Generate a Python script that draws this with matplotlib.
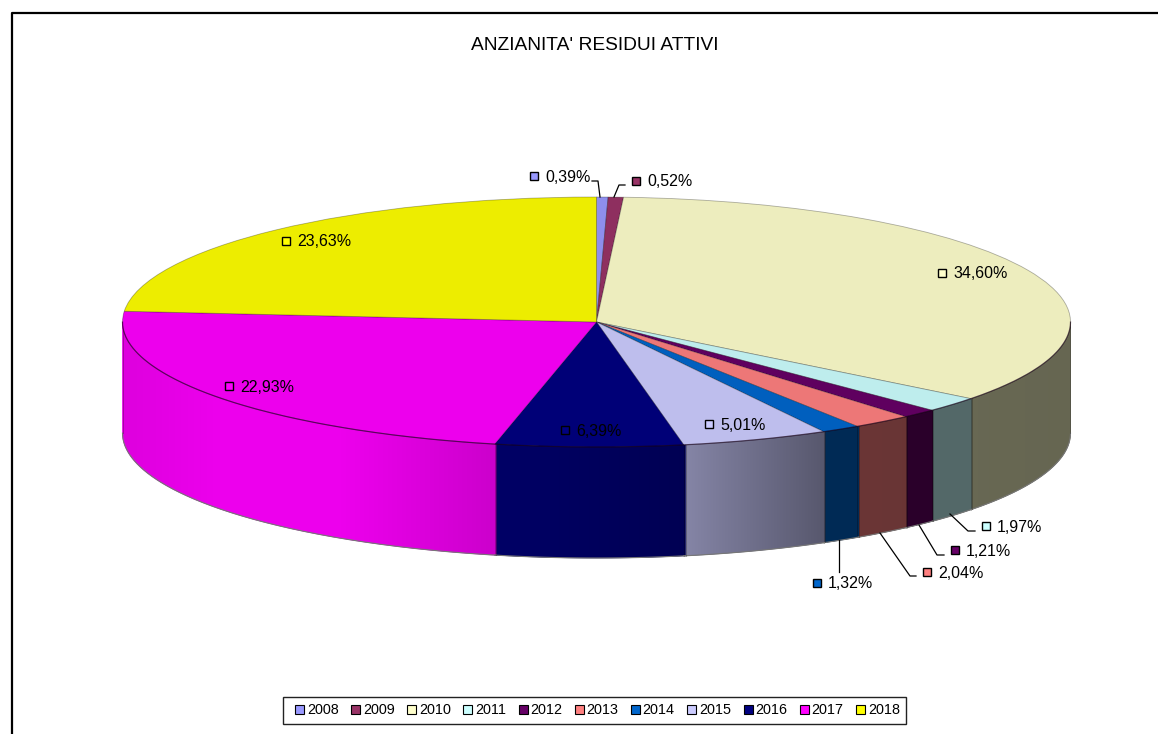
import numpy as np
import matplotlib
matplotlib.use("Agg")
import matplotlib.pyplot as plt
from matplotlib.patches import Patch, Rectangle
from matplotlib.transforms import Affine2D

plt.rcParams['font.family'] = ['Liberation Sans', 'DejaVu Sans']

title = "ANZIANITA' RESIDUI ATTIVI"
years = ['2008', '2009', '2010', '2011', '2012', '2013', '2014', '2015', '2016', '2017', '2018']
values = [0.39, 0.52, 34.60, 1.97, 1.21, 2.04, 1.32, 5.01, 6.39, 22.93, 23.63]
colors = ['#9999FF', '#993366', '#FFFFCC', '#CCFFFF', '#660066', '#FF8080',
          '#0066CC', '#CCCCFF', '#000080', '#FF00FF', '#FFFF00']

# pie geometry in pixels
cx, cy = 596.5, 322
rx, ry = 474, 125
depth = 111
top_shade = 0.93

# label positions (marker centre), same order as values
label_x = [534, 636, 942, 986, 955, 927, 817, 709, 565, 229, 286]
label_y = [176, 181, 273, 526, 550, 572, 583, 424, 430, 386, 241]

# leader lines
leaders = [
    [(600, 197), (598, 181), (592, 181)],
    [(614, 197), (619, 185), (625, 185)],
    [(950, 514), (968, 531), (975, 531)],
    [(919, 525), (937, 555), (944, 555)],
    [(880, 533), (910, 576), (916, 576)],
    [(839, 540), (839, 572)],
]

# wall lighting along x
shade_x = [122, 220, 340, 495, 686, 830, 1072]
shade_v = [0.87, 0.93, 0.93, 0.80, 0.65, 0.42, 0.40]


def darker(color, k):
    return tuple(c * k for c in matplotlib.colors.to_rgb(color))


fig = plt.figure(figsize=(11.58, 7.34), dpi=100)
ax = fig.add_axes([0, 0, 1, 1])

top_colors = [darker(c, top_shade) for c in colors]
wedges, _ = ax.pie(values, colors=top_colors, startangle=90, counterclock=False,
                   wedgeprops=dict(linewidth=0.6, edgecolor=(0, 0, 0, 0.3)))
squash = Affine2D().scale(rx, -ry).translate(cx, cy) + ax.transData
for w in wedges:
    w.set_transform(squash)
    w.set_zorder(3)

# side wall: a gradient image clipped to each slice's outline
for w, col in zip(wedges, colors):
    t = np.radians(np.arange(w.theta1, w.theta2 + 0.25, 0.25))
    t = t[np.sin(t) <= 0]
    if len(t) < 2:
        continue
    x = cx + rx * np.cos(t)
    y = cy - ry * np.sin(t)
    x0, x1 = x.min(), x.max()
    gx = np.linspace(x0, x1, max(2, int(x1 - x0)))
    shades = np.interp(gx, shade_x, shade_v)
    rgb = np.array([darker(col, k) for k in shades])[np.newaxis, :, :]
    outline = ax.fill(np.r_[x, x[::-1]], np.r_[y, y[::-1] + depth], color=darker(col, shades.mean()),
                      lw=0.5, zorder=1)[0]
    im = ax.imshow(rgb, extent=[x0, x1, 700, 300], aspect='auto', zorder=1.5, interpolation='bilinear')
    im.set_clip_path(outline)
    ax.plot(x, y + depth, color='#777777', lw=0.8, zorder=2)
    for k in (0, -1):
        ax.plot([x[k], x[k]], [y[k], y[k] + depth], color=(0, 0, 0, 0.25), lw=0.7, zorder=2)

ax.set_aspect('auto')
ax.set_xlim(0, 1158)
ax.set_ylim(734, 0)
ax.axis('off')

# seam between top and wall
t = np.radians(np.linspace(180, 360, 400))
ax.plot(cx + rx * np.cos(t), cy - ry * np.sin(t), color=(0.1, 0, 0.1, 0.55), lw=0.9, zorder=4)

for pts in leaders:
    xs, ys = zip(*pts)
    ax.plot(xs, ys, color='black', lw=0.9, zorder=5)

for v, col, lx, ly in zip(values, colors, label_x, label_y):
    ax.plot([lx], [ly], marker='s', ms=6.2, mfc=col, mec='black', mew=1.0, zorder=6)
    ax.text(lx + 11, ly + 1, f"{v:.2f}%".replace('.', ','), fontsize=11.5, color='black',
            va='center', ha='left', zorder=6)

ax.text(595, 46, title, fontsize=13.8, color='black', ha='center', va='center')

# chart frame
ax.plot([11.5, 11.5, 1158], [734, 12.5, 12.5], color='black', lw=1.6, clip_on=False)

# legend box
ax.add_patch(Rectangle((283, 697), 623, 27, facecolor='white', edgecolor='#222222', lw=1.0, zorder=6))
handles = [Patch(facecolor=c, edgecolor='black', linewidth=0.8, label=y) for y, c in zip(years, colors)]
leg = ax.legend(handles=handles, ncol=11, loc='center', bbox_to_anchor=(597.5 / 1158, 1 - 710.5 / 734),
                fontsize=10.4, frameon=False, handlelength=0.62, handleheight=0.62,
                handletextpad=0.18, columnspacing=0.88, borderpad=0.4, borderaxespad=0)
leg.set_zorder(7)

fig.savefig('out.png', dpi=100)
